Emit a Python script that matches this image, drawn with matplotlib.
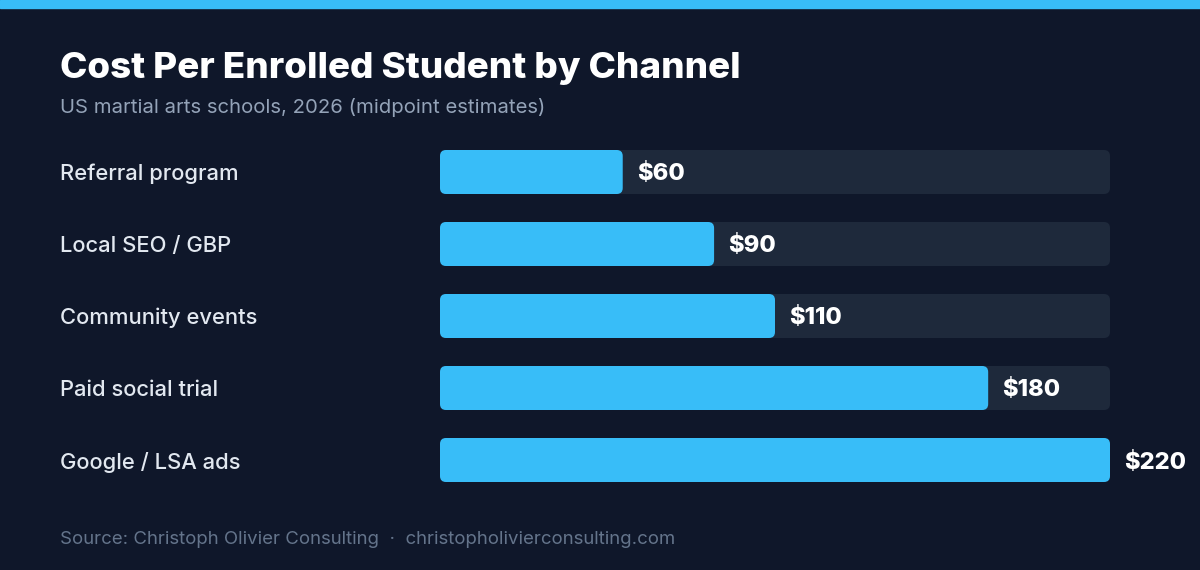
import matplotlib
matplotlib.use("Agg")
import matplotlib.pyplot as plt
from matplotlib.patches import FancyBboxPatch
from matplotlib.transforms import blended_transform_factory

channels = ["Referral program", "Local SEO / GBP", "Community events",
            "Paid social trial", "Google / LSA ads"]
costs = [60, 90, 110, 180, 220]
value_labels = ["$60", "$90", "$110", "$180", "$220"]

BG = "#0f172a"
ACCENT = "#38bdf8"
TRACK = "#1e293b"

plt.rcParams["font.family"] = ["Inter", "DejaVu Sans"]

W, H = 1200, 570
fig = plt.figure(figsize=(W / 100, H / 100), dpi=100, facecolor=BG)

# top stripe
fig.patches.append(plt.Rectangle((0, 1 - 8 / H), 1, 8 / H, transform=fig.transFigure,
                                 color=ACCENT, zorder=0))

fig.text(60 / W, 1 - 78 / H, "Cost Per Enrolled Student by Channel", color="white",
         fontsize=26.5, fontweight="heavy", va="baseline")
fig.text(60 / W, 1 - 113 / H, "US martial arts schools, 2026 (midpoint estimates)",
         color="#94a3b8", fontsize=14.6, va="baseline")
fig.text(60 / W, 1 - 544 / H,
         "Source: Christoph Olivier Consulting  \u00b7  christopholivierconsulting.com",
         color="#64748b", fontsize=13.4, va="baseline")

# axes: bars area
x0, x1 = 440, 1110
bar_h = 44 / 72
pad = bar_h / 2
top_px, bot_px = 150, 482
ax = fig.add_axes([x0 / W, 1 - bot_px / H, (x1 - x0) / W, (bot_px - top_px) / H])
ax.set_facecolor("none")
xmax = max(costs)
ax.set_xlim(0, xmax)
ax.set_ylim(len(channels) - 1 + pad, -pad)
ax.axis("off")

px_x = xmax / (x1 - x0)
px_y = 1 / 72
r = 6 * px_x
aspect = px_y / px_x
trans = blended_transform_factory(fig.transFigure, ax.transData)

for i, (name, v, lab) in enumerate(zip(channels, costs, value_labels)):
    ax.add_patch(FancyBboxPatch((0, i - pad), xmax, bar_h,
                                boxstyle=f"round,pad=0,rounding_size={r}",
                                mutation_aspect=aspect, fc=TRACK, ec="none", zorder=1))
    ax.add_patch(FancyBboxPatch((0, i - pad), v, bar_h,
                                boxstyle=f"round,pad=0,rounding_size={r}",
                                mutation_aspect=aspect, fc=ACCENT, ec="none", zorder=2))
    ax.text(v + 14 * px_x, i, lab, color="white", fontsize=17, fontweight="heavy",
            va="center_baseline", ha="left", zorder=3, clip_on=False)
    ax.text(60 / W, i, name, transform=trans, color="#e2e8f0", fontsize=15.8,
            fontweight="medium", va="center_baseline", ha="left")

fig.savefig("out.png", dpi=100, facecolor=BG)
